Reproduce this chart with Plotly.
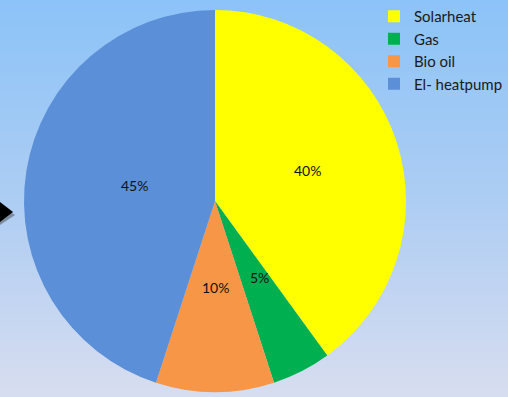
import plotly.graph_objects as go
import numpy as np

# Heating source shares
labels = ["Solarheat", "Gas", "Bio oil", "El- heatpump"]
shares = [40, 5, 10, 45]
colors = ["#FFFF00", "#00B050", "#F79646", "#5B8FD8"]

W, H = 508, 397
FONT = "Lato, Open Sans, sans-serif"

# Vertical gradient backdrop (light blue at top fading to pale lavender)
grad = np.linspace(0, 1, 100).reshape(-1, 1)
background = go.Heatmap(
    z=grad,
    colorscale=[[0, "#D7DDF0"], [0.5, "#ADCDF3"], [1, "#8CC3F8"]],
    showscale=False,
    hoverinfo="skip",
    xaxis="x", yaxis="y",
)

cx, cy, r = 215, 196, 191  # pie centre (from bottom-left) and radius in px

pie = go.Pie(
    labels=labels,
    values=shares,
    sort=False,
    direction="clockwise",
    rotation=0,
    marker=dict(colors=colors, line=dict(width=0)),
    textinfo="none",
    domain=dict(x=[(cx - r) / W, (cx + r) / W], y=[(cy - r) / H, (cy + r) / H]),
    showlegend=True,
)

fig = go.Figure([background, pie])

# Percent labels placed about halfway out along each slice's middle angle
total = sum(shares)
start = 0.0
annotations = []
for v in shares:
    mid = (start + v / 2) / total * 2 * np.pi  # clockwise from 12 o'clock
    start += v
    px = cx + 0.51 * r * np.sin(mid)
    py = cy + 0.51 * r * np.cos(mid)
    annotations.append(dict(
        x=px / W, y=py / H, xref="paper", yref="paper",
        text=f"{round(v / total * 100)}%", showarrow=False,
        font=dict(family=FONT, size=14, color="#111111"),
    ))

fig.update_layout(
    width=W, height=H,
    margin=dict(l=0, r=0, t=0, b=0, autoexpand=False),
    paper_bgcolor="#A9CBF3",
    plot_bgcolor="rgba(0,0,0,0)",
    xaxis=dict(visible=False, domain=[0, 1], range=[-0.5, 0.5], fixedrange=True),
    yaxis=dict(visible=False, domain=[0, 1], range=[-0.5, 99.5], fixedrange=True),
    legend=dict(
        x=374 / W, y=1.0, xanchor="left", yanchor="top",
        bgcolor="rgba(0,0,0,0)",
        font=dict(family=FONT, size=15, color="#1A1A1A"),
        itemwidth=30,
        tracegroupgap=0,
    ),
    annotations=annotations,
    shapes=[
        # arrow pointer at left edge (shadow then body)
        dict(type="path", xref="paper", yref="paper",
             path="M 0,{} L {},{} L 0,{} Z".format(1 - 205 / H, 15 / W, 1 - 215 / H, 1 - 225 / H),
             fillcolor="rgba(60,60,60,0.45)", line=dict(width=0)),
        dict(type="path", xref="paper", yref="paper",
             path="M 0,{} L {},{} L 0,{} Z".format(1 - 202 / H, 13 / W, 1 - 212 / H, 1 - 222 / H),
             fillcolor="#000000", line=dict(width=0)),
    ],
)

fig.write_html("out.html")
